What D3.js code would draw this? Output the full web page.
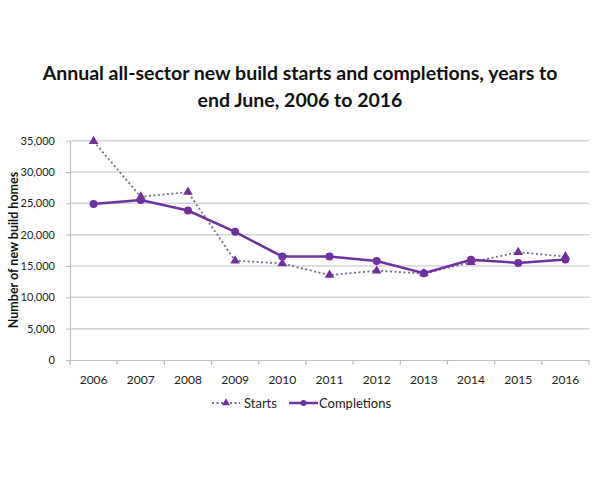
<!DOCTYPE html>
<html><head><meta charset="utf-8">
<script src="https://cdn.jsdelivr.net/npm/d3@7"></script>
<style>body{margin:0;background:#fff;}svg{display:block;}</style>
</head><body>
<script>
const years = ["2006","2007","2008","2009","2010","2011","2012","2013","2014","2015","2016"];
const starts = [34900, 26050, 26800, 15850, 15400, 13550, 14250, 13800, 15600, 17200, 16500];
const completions = [24900, 25550, 23850, 20450, 16500, 16500, 15800, 13850, 16000, 15500, 16050];
const yTicks = [0, 5000, 10000, 15000, 20000, 25000, 30000, 35000];
const titleLines = ["Annual all-sector new build starts and completions, years to", "end June, 2006 to 2016"];
const yLabel = "Number of new build homes";
const seriesNames = ["Starts", "Completions"];

const W = 600, H = 500;
const svg = d3.select("body").append("svg").attr("width", W).attr("height", H);
const font = "Lato, 'Open Sans', sans-serif";
const purple = "#7030a0";

const x = d3.scaleBand().domain(years).range([70, 589]);
const y = d3.scaleLinear().domain([0, 35000]).range([360, 140.7]);

// title
svg.append("g").selectAll("text").data(titleLines).join("text")
  .attr("x", 300).attr("y", (d, i) => 80 + i * 27)
  .attr("text-anchor", "middle").attr("font-family", font)
  .attr("font-weight", "bold").attr("font-size", 19.5).attr("fill", "#111")
  .text(d => d);

// gridlines
svg.append("g").selectAll("line").data(yTicks.filter(d => d > 0)).join("line")
  .attr("x1", 70).attr("x2", 589)
  .attr("y1", d => y(d)).attr("y2", d => y(d))
  .attr("stroke", "#d4d4d4").attr("stroke-width", 1.5);

// y axis
const yAxis = svg.append("g").attr("transform", "translate(70,0)")
  .call(d3.axisLeft(y).tickValues(yTicks).tickFormat(d3.format(",")).tickSize(4).tickSizeOuter(0).tickPadding(11));
yAxis.select(".domain").attr("stroke", "#bfbfbf").attr("stroke-width", 1.2);
yAxis.selectAll(".tick line").attr("stroke", "#bfbfbf");
yAxis.selectAll("text").attr("font-family", font).attr("font-size", 11).attr("fill", "#222");

// x axis
const xAxis = svg.append("g").attr("transform", "translate(0,360)")
  .call(d3.axisBottom(x).tickSize(0).tickPadding(15));
xAxis.select(".domain").attr("stroke", "#bfbfbf").attr("stroke-width", 1.2);
xAxis.selectAll("text").attr("font-family", font).attr("font-size", 12).attr("fill", "#222");
const bounds = years.map(d => x(d)).concat([x.range()[1]]);
svg.append("g").selectAll("line").data(bounds).join("line")
  .attr("x1", d => d).attr("x2", d => d).attr("y1", 360).attr("y2", 365)
  .attr("stroke", "#bfbfbf").attr("stroke-width", 1.2);

// y label
svg.append("text")
  .attr("transform", "translate(18,250) rotate(-90)")
  .attr("text-anchor", "middle").attr("font-family", font)
  .attr("font-weight", "bold").attr("font-size", 12.5).attr("fill", "#111")
  .text(yLabel);

const cx = d => x(d) + x.bandwidth() / 2;
const line = d3.line().x(d => cx(d[0])).y(d => y(d[1]));

// starts
const sData = years.map((d, i) => [d, starts[i]]);
svg.append("path").datum(sData).attr("d", line)
  .attr("fill", "none").attr("stroke", "#7a6a8a").attr("stroke-width", 1.8)
  .attr("stroke-dasharray", "2,2.5");
const tri = d3.symbol().type(d3.symbolTriangle).size(40);
svg.append("g").selectAll("path").data(sData).join("path")
  .attr("d", tri).attr("transform", d => `translate(${cx(d[0])},${y(d[1])})`)
  .attr("fill", purple);

// completions
const cData = years.map((d, i) => [d, completions[i]]);
svg.append("path").datum(cData).attr("d", line)
  .attr("fill", "none").attr("stroke", purple).attr("stroke-width", 2.5);
svg.append("g").selectAll("circle").data(cData).join("circle")
  .attr("cx", d => cx(d[0])).attr("cy", d => y(d[1])).attr("r", 4)
  .attr("fill", purple);

// legend
const lg = svg.append("g");
lg.append("line").attr("x1", 212).attr("x2", 240).attr("y1", 403).attr("y2", 403)
  .attr("stroke", "#7a6a8a").attr("stroke-width", 1.8).attr("stroke-dasharray", "2,2.5");
lg.append("path").attr("d", d3.symbol().type(d3.symbolTriangle).size(28)).attr("transform", "translate(226,403)").attr("fill", purple);
lg.append("text").attr("x", 244).attr("y", 408).attr("font-family", font).attr("font-size", 13).attr("fill", "#222").text(seriesNames[0]);
lg.append("line").attr("x1", 289).attr("x2", 318).attr("y1", 403).attr("y2", 403)
  .attr("stroke", purple).attr("stroke-width", 2.5);
lg.append("circle").attr("cx", 303.5).attr("cy", 403).attr("r", 3).attr("fill", purple);
lg.append("text").attr("x", 319).attr("y", 408).attr("font-family", font).attr("font-size", 13).attr("fill", "#222").text(seriesNames[1]);
</script>
</body></html>
